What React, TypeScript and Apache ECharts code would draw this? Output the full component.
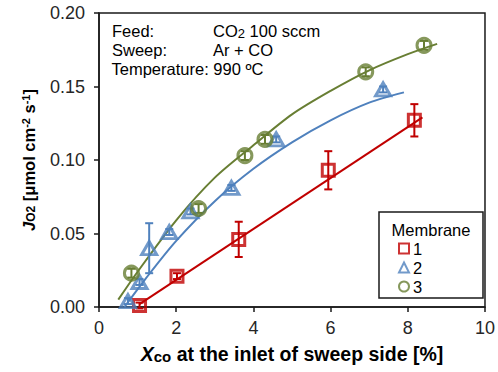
import React, { useEffect, useRef } from "react";
import * as echarts from "echarts";

const FONT = "'Liberation Sans', Arial, sans-serif";

// Membrane 1 (red squares)
const xRed = [1.05, 2.02, 3.62, 5.94, 8.17];
const yRed = [0.001, 0.021, 0.046, 0.093, 0.127];
const eRed = [0.002, 0.002, 0.012, 0.013, 0.011];
// Membrane 2 (blue triangles)
const xBlue = [0.75, 1.05, 1.3, 1.82, 2.37, 3.43, 4.59, 7.36];
const yBlue = [0.004, 0.017, 0.04, 0.051, 0.065, 0.081, 0.114, 0.148];
const eBlue = [0.002, 0.002, 0.017, 0.002, 0.002, 0.002, 0.002, 0.002];
// Membrane 3 (green circles)
const xGreen = [0.84, 2.58, 3.78, 4.3, 6.91, 8.42];
const yGreen = [0.023, 0.067, 0.103, 0.114, 0.16, 0.178];
const eGreen = [0.003, 0.003, 0.003, 0.003, 0.003, 0.003];

// Trend lines
const trendRedX = [1.05, 8.38];
const trendRedY = [0.002, 0.129];
const trendBlueX = [0.66, 1.2, 2.0, 3.0, 4.0, 5.0, 6.0, 7.0, 7.9];
const trendBlueY = [0.0, 0.019, 0.045, 0.072, 0.094, 0.112, 0.127, 0.139, 0.146];
const trendGreenX = [0.5, 1.0, 2.0, 3.0, 4.0, 5.0, 6.0, 7.0, 8.0, 8.76];
const trendGreenY = [0.005, 0.024, 0.059, 0.088, 0.11, 0.131, 0.147, 0.161, 0.172, 0.179];

const seriesNames = ["1", "2", "3"];
const xTicks = { min: 0, max: 10, interval: 2 };
const yTicks = { min: 0, max: 0.2, interval: 0.05 };

const RED = "#C00000";
const BLUE = "#4F81BD";
const GREEN = "#687E33";

const zip = (xs: number[], ys: number[]) => xs.map((x, i) => [x, ys[i]]);
const zip3 = (xs: number[], ys: number[], es: number[]) => xs.map((x, i) => [x, ys[i], es[i]]);

function errorSeries(data: number[][], color: string) {
  return {
    type: "custom",
    data,
    encode: { x: 0, y: 1 },
    z: 3,
    silent: true,
    renderItem: (params: any, api: any) => {
      const x = api.value(0);
      const y = api.value(1);
      const e = api.value(2);
      const top = api.coord([x, y + e]);
      const bot = api.coord([x, y - e]);
      const hw = 4;
      const st = { stroke: color, lineWidth: 2 };
      return {
        type: "group",
        children: [
          { type: "line", shape: { x1: top[0], y1: top[1], x2: bot[0], y2: bot[1] }, style: st },
          { type: "line", shape: { x1: top[0] - hw, y1: top[1], x2: top[0] + hw, y2: top[1] }, style: st },
          { type: "line", shape: { x1: bot[0] - hw, y1: bot[1], x2: bot[0] + hw, y2: bot[1] }, style: st },
        ],
      };
    },
  };
}

function trendSeries(data: number[][], color: string) {
  return {
    type: "line",
    data,
    smooth: 0.3,
    showSymbol: false,
    symbol: "none",
    silent: true,
    z: 2,
    lineStyle: { color, width: 2 },
  };
}

function scatterSeries(name: string, data: number[][], color: string, symbol: string, size: any) {
  return {
    type: "scatter",
    name,
    data,
    symbol,
    symbolSize: size,
    z: 4,
    itemStyle: { color: "rgba(255,255,255,0)", borderColor: color, borderWidth: 3 },
  };
}

export default function App() {
  const ref = useRef<HTMLDivElement>(null);
  useEffect(() => {
    if (!ref.current) return;
    const chart = echarts.init(ref.current, undefined, { renderer: "svg" });
    const option: any = {
      animation: false,
      textStyle: { fontFamily: FONT },
      grid: {
        left: 99,
        right: 7,
        top: 13,
        bottom: 65,
        show: true,
        borderColor: "#1a1a1a",
        borderWidth: 1.5,
        backgroundColor: "transparent",
      },
      xAxis: {
        type: "value",
        min: xTicks.min,
        max: xTicks.max,
        interval: xTicks.interval,
        splitLine: { show: false },
        axisLine: { show: true, lineStyle: { color: "#1a1a1a", width: 1.5 } },
        axisTick: { show: true, length: 5, lineStyle: { color: "#1a1a1a", width: 1.5 } },
        axisLabel: { fontSize: 18, color: "#262626", margin: 12, fontFamily: FONT },
        name: "{xi|X}{sub|co} at the inlet of sweep side [%]",
        nameLocation: "middle",
        nameGap: 37,
        nameTextStyle: {
          fontSize: 19.5,
          fontWeight: "bold",
          color: "#000",
          fontFamily: FONT,
          rich: {
            xi: { fontSize: 19.5, fontWeight: "bold", fontStyle: "italic", fontFamily: FONT, color: "#000" },
            sub: { fontSize: 15, fontWeight: "bold", fontFamily: FONT, color: "#000", verticalAlign: "bottom", padding: [4, 0, 0, 0] },
          },
        },
      },
      yAxis: {
        type: "value",
        min: yTicks.min,
        max: yTicks.max,
        interval: yTicks.interval,
        splitLine: { show: false },
        axisLine: { show: true, lineStyle: { color: "#1a1a1a", width: 1.5 } },
        axisTick: { show: true, length: 5, lineStyle: { color: "#1a1a1a", width: 1.5 } },
        axisLabel: {
          fontSize: 18,
          color: "#262626",
          margin: 14,
          fontFamily: FONT,
          formatter: (v: number) => v.toFixed(2),
        },
        name: "{ji|J}{sub|O2} [μmol cm{sup|-2} s{sup|-1}]",
        nameLocation: "middle",
        nameRotate: 90,
        nameGap: 62,
        nameTextStyle: {
          fontSize: 16.5,
          fontWeight: "bold",
          color: "#000",
          fontFamily: FONT,
          rich: {
            ji: { fontSize: 16.5, fontWeight: "bold", fontStyle: "italic", fontFamily: FONT, color: "#000" },
            sub: { fontSize: 12, fontWeight: "bold", fontFamily: FONT, color: "#000", verticalAlign: "bottom" },
            sup: { fontSize: 11, fontWeight: "bold", fontFamily: FONT, color: "#000", verticalAlign: "top" },
          },
        },
      },
      legend: {
        data: seriesNames,
        orient: "vertical",
        left: 398,
        top: 239,
        itemWidth: 10,
        itemHeight: 10,
        itemGap: 0,
        padding: 0,
        textStyle: { fontSize: 16.5, color: "#000", fontFamily: FONT, lineHeight: 19, padding: [0, 0, 0, -1] },
        selectedMode: false,
      },
      graphic: [
        {
          type: "rect",
          shape: { x: 379, y: 212, width: 104, height: 86 },
          style: { fill: "#fff", stroke: "#1a1a1a", lineWidth: 1.5 },
          z: 1,
        },
        {
          type: "text",
          x: 431,
          y: 230,
          z: 2,
          style: { text: "Membrane", fontSize: 16.5, fontFamily: FONT, fill: "#000", align: "center", verticalAlign: "middle" },
        },
        {
          type: "text",
          x: 112,
          y: 31,
          style: { text: "Feed:", fontSize: 16.5, fontFamily: FONT, fill: "#000", verticalAlign: "middle" },
        },
        {
          type: "text",
          x: 213,
          y: 31,
          style: {
            text: "CO{sub|2} 100 sccm",
            fontSize: 16.5,
            fontFamily: FONT,
            fill: "#000",
            verticalAlign: "middle",
            rich: { sub: { fontSize: 13, fontFamily: FONT, fill: "#000", verticalAlign: "bottom", padding: [3, 0, 0, 0] } },
          },
        },
        {
          type: "text",
          x: 112,
          y: 50,
          style: { text: "Sweep:", fontSize: 16.5, fontFamily: FONT, fill: "#000", verticalAlign: "middle" },
        },
        {
          type: "text",
          x: 213,
          y: 50,
          style: { text: "Ar + CO", fontSize: 16.5, fontFamily: FONT, fill: "#000", verticalAlign: "middle" },
        },
        {
          type: "text",
          x: 111.5,
          y: 69,
          style: { text: "Temperature: 990 ºC", fontSize: 16.5, fontFamily: FONT, fill: "#000", verticalAlign: "middle" },
        },
      ],
      series: [
        trendSeries(zip(trendRedX, trendRedY), RED),
        trendSeries(zip(trendBlueX, trendBlueY), BLUE),
        trendSeries(zip(trendGreenX, trendGreenY), GREEN),
        errorSeries(zip3(xRed, yRed, eRed), RED),
        errorSeries(zip3(xBlue, yBlue, eBlue), BLUE),
        errorSeries(zip3(xGreen, yGreen, eGreen), GREEN),
        scatterSeries(seriesNames[0], zip(xRed, yRed), RED, "rect", 12),
        scatterSeries(seriesNames[1], zip(xBlue, yBlue), BLUE, "triangle", [15, 13]),
        scatterSeries(seriesNames[2], zip(xGreen, yGreen), GREEN, "circle", 14),
      ],
    };
    chart.setOption(option);
    return () => chart.dispose();
  }, []);
  return <div ref={ref} style={{ position: "absolute", left: 0, top: 0, width: 498, height: 372 }} />;
}
